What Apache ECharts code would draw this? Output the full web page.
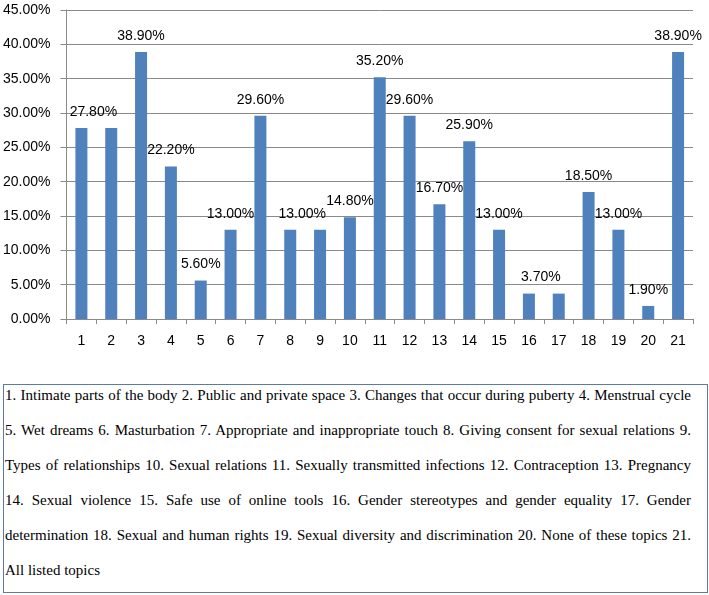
<!DOCTYPE html>
<html>
<head>
<meta charset="utf-8">
<script src="https://cdn.jsdelivr.net/npm/echarts@6/dist/echarts.min.js"></script>
<style>
	html, body { margin: 0; padding: 0; background: #fff; }
	#chart { position: absolute; left: 0; top: 0; width: 709px; height: 595px; }
	#note {
		position: absolute; left: 3px; top: 384px; width: 703px; height: 207px;
		border: 1px solid #5b7aa6; background: #fff;
		font-family: "Liberation Serif", "DejaVu Serif", serif; font-size: 15px; color: #000;
	}
	.note_line {
		position: absolute; left: 1px; width: 686px; white-space: nowrap;
		text-align: justify; text-align-last: justify; transform-origin: 0 50%;
	}
	.note_line.last { text-align-last: left; }
</style>
</head>
<body>
<div id="chart"></div>
<div id="note"></div>
<script>
	// categories (topic numbers)
	var topics = ['1', '2', '3', '4', '5', '6', '7', '8', '9', '10', '11', '12', '13', '14', '15', '16', '17', '18', '19', '20', '21'];
	// share of answers, %
	var shares = [27.8, 27.8, 38.9, 22.2, 5.6, 13.0, 29.6, 13.0, 13.0, 14.8, 35.2, 29.6, 16.7, 25.9, 13.0, 3.7, 3.7, 18.5, 13.0, 1.9, 38.9];
	// y axis ticks
	var yTicks = [0, 5, 10, 15, 20, 25, 30, 35, 40, 45];
	// legend text under the chart, one entry per line as in the picture
	var noteLines = [
		'1. Intimate parts of the body 2. Public and private space 3. Changes that occur during puberty 4. Menstrual cycle',
		'5. Wet dreams 6. Masturbation 7. Appropriate and inappropriate touch 8. Giving consent for sexual relations 9.',
		'Types of relationships 10. Sexual relations 11. Sexually transmitted infections 12. Contraception 13. Pregnancy',
		'14. Sexual violence 15. Safe use of online tools 16. Gender stereotypes and gender equality 17. Gender',
		'determination 18. Sexual and human rights 19. Sexual diversity and discrimination 20. None of these topics 21.',
		'All listed topics'
	];

	//bars whose label is left out (duplicate values), and bars whose label sits a bit to the right
	var hiddenLabels = [1, 8, 16];
	var shiftedLabels = [0, 7, 15];

	var barData = [];
	for(var i = 0; i < shares.length; i++) {
		var item = { value: shares[i] };
		if(hiddenLabels.indexOf(i) >= 0) {
			item.label = { show: false };
		} else if(shiftedLabels.indexOf(i) >= 0) {
			item.label = { offset: [12, 0] };
		}
		barData.push(item);
	}

	var gridColor = '#8a8a8a';
	var myChart = echarts.init(document.getElementById('chart'));
	var option = {
		animation: false,
		grid: { left: 66, right: 16, top: 10, bottom: 276, containLabel: false },
		xAxis: {
			type: 'category',
			data: topics,
			boundaryGap: true,
			axisLine: { show: true, lineStyle: { color: gridColor, width: 1 } },
			axisTick: { show: true, interval: 0, alignWithLabel: false, length: 5, lineStyle: { color: gridColor } },
			axisLabel: { interval: 0, margin: 15, fontSize: 14, color: '#000', fontFamily: 'Liberation Sans' }
		},
		yAxis: {
			type: 'value',
			min: yTicks[0],
			max: yTicks[yTicks.length - 1],
			interval: yTicks[1] - yTicks[0],
			axisLine: { show: true, lineStyle: { color: gridColor, width: 1 } },
			axisTick: { show: true, length: 6, lineStyle: { color: gridColor } },
			splitLine: { show: true, lineStyle: { color: gridColor, width: 1 } },
			axisLabel: {
				margin: 16, fontSize: 14, color: '#000', fontFamily: 'Liberation Sans',
				formatter: function(v) { return v.toFixed(2) + '%'; }
			}
		},
		series: [{
			type: 'bar',
			data: barData,
			barWidth: 12,
			itemStyle: { color: '#4f81bd' },
			label: {
				show: true,
				position: 'top',
				distance: 9,
				fontSize: 14,
				color: '#000',
				fontFamily: 'Liberation Sans',
				formatter: function(p) { return p.value.toFixed(2) + '%'; }
			}
		}]
	};
	myChart.setOption(option);

	//文字说明框
	var note = document.getElementById('note');
	var ctx = document.createElement('canvas').getContext('2d');
	ctx.font = '15px "Liberation Serif"';
	var lineTop = [2, 37, 72, 107, 142, 177];
	for(var k = 0; k < noteLines.length; k++) {
		var div = document.createElement('div');
		div.className = 'note_line' + (k == noteLines.length - 1 ? ' last' : '');
		div.style.top = lineTop[k] + 'px';
		div.textContent = noteLines[k];
		var w = ctx.measureText(noteLines[k]).width;
		if(w > 686) {
			div.style.width = Math.ceil(w) + 'px';
			div.style.transform = 'scaleX(' + (686 / Math.ceil(w)) + ')';
		}
		note.appendChild(div);
	}
</script>
</body>
</html>
